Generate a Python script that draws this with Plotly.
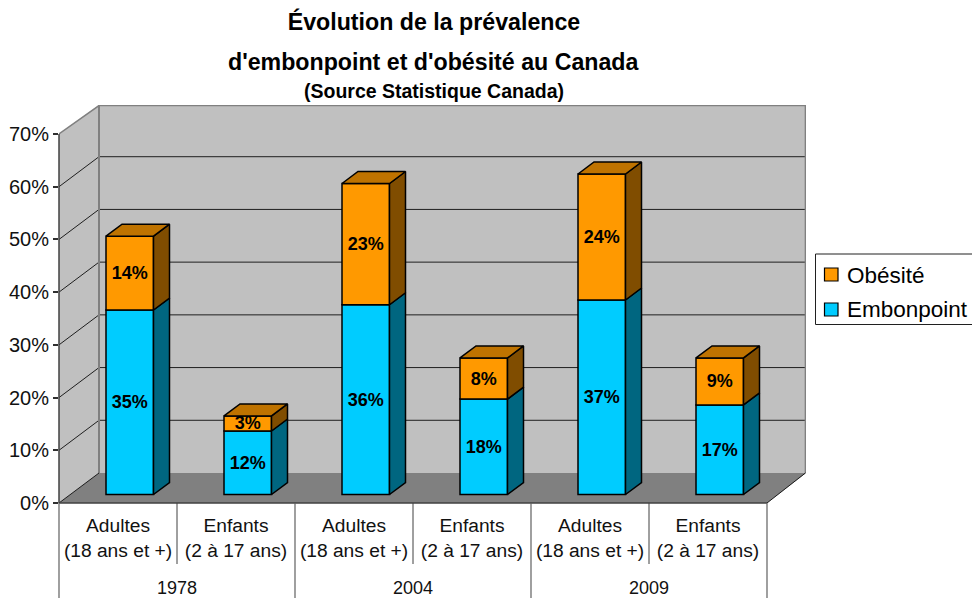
import plotly.graph_objects as go

# --- data ---
sub_labels = ["Adultes<br>(18 ans et +)", "Enfants<br>(2 à 17 ans)"] * 3
years = ["1978", "2004", "2009"]
embonpoint = [35.0, 12.05, 36.0, 18.1, 36.9, 17.0]
obesite = [14.0, 2.85, 23.0, 7.8, 23.9, 8.9]
emb_labels = ["35%", "12%", "36%", "18%", "37%", "17%"]
obe_labels = ["14%", "3%", "23%", "8%", "24%", "9%"]
y_ticks = [0, 10, 20, 30, 40, 50, 60, 70]
y_tick_labels = ["0%", "10%", "20%", "30%", "40%", "50%", "60%", "70%"]

# --- colours ---
ORANGE, ORANGE_TOP, ORANGE_SIDE = "#FF9900", "#BF7300", "#804D00"
BLUE, BLUE_TOP, BLUE_SIDE = "#00CCFF", "#0099BF", "#006680"
WALL, FLOOR, EDGE, GRID = "#C0C0C0", "#808080", "#808080", "#1f1f1f"
FONT = "Liberation Sans"

# --- geometry of the pseudo-3D box (pixels in the 972x598 page) ---
L, R, T, B = 59, 806, 105, 503
PX_X = 118.0          # pixels per category
PX_Y = 369 / 70       # pixels per percentage point
x0 = -0.5
x1 = x0 + (R - L) / PX_X
y1 = (B - T) / PX_Y
WALL_DX, WALL_DY = 40 / PX_X, 30 / PX_Y
BAR_DX, BAR_DY = 16 / PX_X, 12 / PX_Y
BAR_W = 47.5 / PX_X
BAR_OFF = (106 - L - 59) / PX_X   # left edge of a bar relative to its category centre
BAR_BASE = 8.5 / PX_Y


def px(xp):
    return (xp - L) / (R - L)


def py(yp):
    return (B - yp) / (B - T)


def poly(pts):
    return "M" + " L".join(f"{a},{b}" for a, b in pts) + " Z"


shapes = []
front_r = x0 + 6
# left wall, back wall, floor
shapes.append(dict(type="path", layer="below", fillcolor=WALL, line=dict(width=0), xref="x", yref="y",
                   path=poly([(x0, 0), (x0 + WALL_DX, WALL_DY), (x0 + WALL_DX, y1), (x0, 70)])))
shapes.append(dict(type="path", layer="below", fillcolor=WALL, line=dict(width=0), xref="x", yref="y",
                   path=poly([(x0 + WALL_DX, WALL_DY), (x1, WALL_DY), (x1, y1), (x0 + WALL_DX, y1)])))
# grid lines
for v in y_ticks[1:-1]:
    shapes.append(dict(type="path", layer="below", line=dict(color=GRID, width=1), xref="x", yref="y",
                       path=f"M{x0},{v} L{x0 + WALL_DX},{v + WALL_DY} L{x1},{v + WALL_DY}"))
shapes.append(dict(type="path", layer="below", fillcolor=FLOOR, line=dict(width=0), xref="x", yref="y",
                   path=poly([(x0, 0), (front_r, 0), (x1, WALL_DY), (x0 + WALL_DX, WALL_DY)])))
# wall edges
shapes.append(dict(type="path", layer="below", line=dict(color=EDGE, width=1.5), xref="x", yref="y",
                   path=f"M{x0},70 L{x0 + WALL_DX},{y1 - 0.1} L{x1 - 0.005},{y1 - 0.1} L{x1 - 0.005},{WALL_DY}"))
shapes.append(dict(type="line", layer="below", line=dict(color=EDGE, width=2), xref="x", yref="y",
                   x0=x0 + WALL_DX, x1=x0 + WALL_DX, y0=WALL_DY, y1=y1))
shapes.append(dict(type="line", layer="below", line=dict(color="#1a1a1a", width=1), xref="x", yref="y",
                   x0=front_r, x1=x1 - 0.005, y0=0, y1=WALL_DY))
shapes.append(dict(type="line", layer="below", line=dict(color="#1a1a1a", width=1), xref="x", yref="y",
                   x0=x0, x1=x0 + WALL_DX, y0=0, y1=WALL_DY))
# axis lines
shapes.append(dict(type="line", line=dict(color="#404040", width=1.5), xref="paper", yref="y",
                   x0=0, x1=0, y0=0, y1=70))
shapes.append(dict(type="line", line=dict(color="#404040", width=1.5), xref="x", yref="paper",
                   x0=x0, x1=front_r, y0=0, y1=0))
# category table separators
for i in range(len(years) + 1):
    shapes.append(dict(type="line", line=dict(color="#606060", width=1.2), xref="paper", yref="paper",
                       x0=px(L + PX_X * 2 * i), x1=px(L + PX_X * 2 * i), y0=0, y1=py(600)))
for i in range(len(years)):
    xv = L + PX_X * (2 * i + 1)
    shapes.append(dict(type="line", line=dict(color="#404040", width=1), xref="paper", yref="paper",
                       x0=px(xv), x1=px(xv), y0=0, y1=py(564)))

# legend box and swatches
shapes.append(dict(type="rect", line=dict(color="#202020", width=1), fillcolor="white", xref="paper", yref="paper",
                   x0=px(815.5), x1=px(980), y0=py(254), y1=py(324.5)))
for yt, col in ((268, ORANGE), (303, BLUE)):
    shapes.append(dict(type="rect", line=dict(color="#000000", width=1.2), fillcolor=col, xref="paper", yref="paper",
                       x0=px(824.5), x1=px(838), y0=py(yt), y1=py(yt + 13)))

fig = go.Figure()
xs = list(range(len(embonpoint)))
base_e = [BAR_BASE] * len(xs)
base_o = [BAR_BASE + e for e in embonpoint]
tops = [BAR_BASE + e + o for e, o in zip(embonpoint, obesite)]

textfont = dict(family=FONT, size=18, color="black")
for name, vals, base, col, text in (("Embonpoint", embonpoint, base_e, BLUE, emb_labels),
                                    ("Obésité", obesite, base_o, ORANGE, obe_labels)):
    fig.add_trace(go.Bar(
        x=xs, y=vals, base=base, name=name, width=BAR_W, offset=BAR_OFF,
        marker=dict(color=col, line=dict(color="black", width=1.5)),
        text=[f"<b>{t}</b>" for t in text], textposition="inside", insidetextanchor="middle", textangle=0,
        constraintext="none", textfont=textfont, showlegend=False,
        hovertemplate=name + ": %{text}<extra></extra>",
    ))


def face(points, color):
    xv = [p[0] for p in points] + [points[0][0]]
    yv = [p[1] for p in points] + [points[0][1]]
    fig.add_trace(go.Scatter(x=xv, y=yv, mode="lines", fill="toself", fillcolor=color,
                             line=dict(color="black", width=1.5), hoverinfo="skip", showlegend=False))


for i in xs:
    a = i + BAR_OFF
    b = a + BAR_W
    low, mid, top = base_e[i], base_o[i], tops[i]
    face([(b, low), (b + BAR_DX, low + BAR_DY), (b + BAR_DX, mid + BAR_DY), (b, mid)], BLUE_SIDE)
    face([(b, mid), (b + BAR_DX, mid + BAR_DY), (b + BAR_DX, top + BAR_DY), (b, top)], ORANGE_SIDE)
    face([(a, top), (b, top), (b + BAR_DX, top + BAR_DY), (a + BAR_DX, top + BAR_DY)], ORANGE_TOP)

annotations = []
for i, y in enumerate(years):
    annotations.append(dict(text=y, xref="x", yref="paper", x=x0 + 1 + 2 * i, y=py(588), showarrow=False,
                            yanchor="middle", xanchor="center", font=dict(family=FONT, size=18, color="#111111")))
annotations.append(dict(text="<b>d'embonpoint et d'obésité au Canada</b>", xref="paper", yref="paper",
                        x=px(434), y=py(62), showarrow=False, yanchor="middle", xanchor="center",
                        font=dict(family=FONT, size=23.2, color="black")))
annotations.append(dict(text="<b>(Source Statistique Canada)</b>", xref="paper", yref="paper",
                        x=px(434), y=py(91), showarrow=False, yanchor="middle", xanchor="center",
                        font=dict(family=FONT, size=19.5, color="black")))
for txt, yc in (("Obésité", 275), ("Embonpoint", 309.5)):
    annotations.append(dict(text=txt, xref="paper", yref="paper", x=px(846), y=py(yc), showarrow=False,
                            yanchor="middle", xanchor="left", xshift=-1,
                            font=dict(family=FONT, size=22.5, color="black")))

fig.update_layout(
    width=972, height=598, autosize=False,
    margin=dict(l=L, r=972 - R, t=T, b=598 - B, pad=0),
    paper_bgcolor="white", plot_bgcolor="white",
    barmode="overlay",
    showlegend=False,
    title=dict(text="<b>Évolution de la prévalence</b>", x=434 / 972, y=1 - 22 / 598, xref="container", yref="container",
               xanchor="center", yanchor="middle", font=dict(family=FONT, size=23.2, color="black")),
    xaxis=dict(range=[x0, x1], tickmode="array", tickvals=xs, ticktext=sub_labels, showgrid=False, zeroline=False,
               showline=False, ticks="outside", ticklen=5, tickcolor="rgba(0,0,0,0)", automargin=False,
               tickfont=dict(family=FONT, size=19.2, color="#111111")),
    yaxis=dict(range=[0, y1], tickmode="array", tickvals=y_ticks, ticktext=y_tick_labels, showgrid=False, zeroline=False,
               showline=False, ticks="outside", ticklen=5, tickwidth=1.5, tickcolor="#303030", automargin=False,
               tickfont=dict(family=FONT, size=20, color="#111111")),
    shapes=shapes,
    annotations=annotations,
)

fig.write_html("out.html", config={"displayModeBar": False},
               post_script="document.body.style.margin='0';document.documentElement.style.overflow='hidden';")
